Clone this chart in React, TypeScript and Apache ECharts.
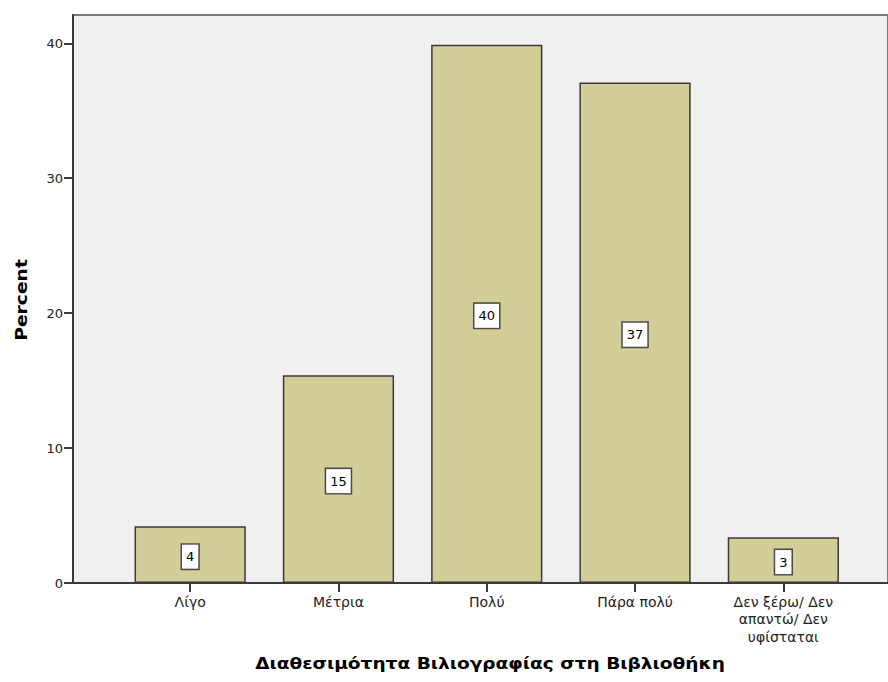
import React, { useEffect, useRef } from "react";
import * as echarts from "echarts";

const categories = [
  "Λίγο",
  "Μέτρια",
  "Πολύ",
  "Πάρα πολύ",
  "Δεν ξέρω/ Δεν\nαπαντώ/ Δεν\nυφίσταται",
];
const percentValues = [4.2, 15.4, 39.9, 37.1, 3.4];
const yTicks = { min: 0, max: 42.1, interval: 10 };
const xTitle = "Διαθεσιμότητα Βιλιογραφίας στη Βιβλιοθήκη";
const yTitle = "Percent";

const FONT = '"DejaVu Sans", Verdana, sans-serif';

export default function App() {
  const ref = useRef<HTMLDivElement>(null);
  useEffect(() => {
    if (!ref.current) return;
    const chart = echarts.init(ref.current, undefined, { renderer: "svg" });
    const option: any = {
      animation: false,
      textStyle: { fontFamily: FONT },
      grid: [
        {
          left: 73,
          top: 15,
          width: 830,
          height: 568,
          show: true,
          backgroundColor: "#f0f0f0",
          borderColor: "#7a7a7a",
          borderWidth: 2,
        },
        { left: 116, top: 15, width: 741.5, height: 568 },
      ],
      xAxis: [
        {
          gridIndex: 0,
          type: "value",
          min: 0,
          max: 1,
          axisLine: { show: true, lineStyle: { color: "#3a3a3a", width: 2 } },
          axisTick: { show: false },
          axisLabel: { show: false },
          splitLine: { show: false },
        },
        {
          gridIndex: 1,
          type: "category",
          data: categories,
          boundaryGap: true,
          axisLine: { show: false },
          axisTick: {
            show: true,
            alignWithLabel: true,
            length: 9,
            lineStyle: { color: "#3a3a3a", width: 2 },
          },
          axisLabel: {
            fontSize: 14,
            color: "#222",
            margin: 10,
            lineHeight: 17.5,
            interval: 0,
            fontFamily: FONT,
          },
        },
      ],
      yAxis: [
        {
          gridIndex: 0,
          type: "value",
          min: yTicks.min,
          max: yTicks.max,
          interval: yTicks.interval,
          axisLine: { show: true, lineStyle: { color: "#3a3a3a", width: 2 } },
          axisTick: { show: true, length: 9, lineStyle: { color: "#3a3a3a", width: 2 } },
          axisLabel: {
            fontSize: 13,
            color: "#222",
            margin: 10,
            fontFamily: FONT,
            showMaxLabel: false,
          },
          splitLine: { show: false },
        },
        {
          gridIndex: 1,
          type: "value",
          min: yTicks.min,
          max: yTicks.max,
          show: false,
          splitLine: { show: false },
        },
      ],
      graphic: [
        {
          type: "text",
          x: 490,
          y: 663,
          scaleX: 1.16,
          style: {
            text: xTitle,
            fontSize: 16,
            fontWeight: "bold",
            fontFamily: FONT,
            fill: "#000",
            align: "center",
            verticalAlign: "middle",
          },
        },
        {
          type: "text",
          x: 21.5,
          y: 300,
          rotation: Math.PI / 2,
          scaleX: 1.17,
          style: {
            text: yTitle,
            fontSize: 16,
            fontWeight: "bold",
            fontFamily: FONT,
            fill: "#000",
            align: "center",
            verticalAlign: "middle",
          },
        },
      ],
      series: [
        {
          type: "bar",
          xAxisIndex: 1,
          yAxisIndex: 1,
          data: percentValues,
          barWidth: "75%",
          itemStyle: { color: "#d3ce97", borderColor: "#3a3a3a", borderWidth: 1.5 },
          label: {
            show: true,
            position: "inside",
            offset: [0, 2],
            formatter: (p: any) => String(Math.round(p.value)),
            fontSize: 13,
            color: "#000",
            fontFamily: FONT,
            backgroundColor: "#ffffff",
            borderColor: "#4a4a4a",
            borderWidth: 1.5,
            padding: [6, 4, 5, 4],
          },
        },
      ],
    };
    chart.setOption(option);
    return () => chart.dispose();
  }, []);
  return (
    <div
      ref={ref}
      style={{ position: "fixed", left: 0, top: 0, width: 888, height: 682, background: "#fff" }}
    />
  );
}
